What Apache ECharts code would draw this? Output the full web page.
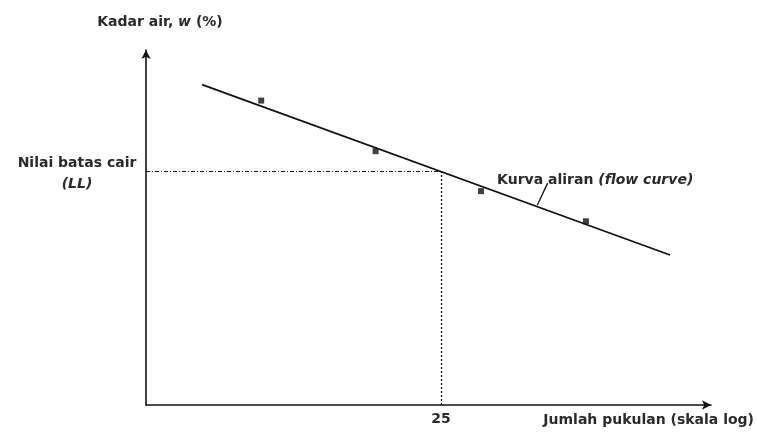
<!DOCTYPE html>
<html>
<head>
<meta charset="utf-8">
<script src="https://cdn.jsdelivr.net/npm/echarts@6/dist/echarts.min.js"></script>
<style>html,body{margin:0;padding:0;background:#fff}#c{width:757px;height:442px}</style>
</head>
<body>
<div id="c"></div>
<script>
// Data (blow count on log scale, water content %)
const testBlows = [14.3, 20.4, 28.3, 39.2];
const testWater = [54.3, 48.6, 44.1, 40.7];
const curveBlows = [11.9, 50.9];
const curveWater = [56.1, 36.9];
const leaderBlows = [33.7, 34.8];
const leaderWater = [42.5, 45.0];
const llBlows = 25;
const llWater = 46.3;
const xTickValues = [25];
const xTickLabels = ['25'];
const yTickValues = [llWater];
const xName = 'Jumlah pukulan (skala log)';
const yName = 'Kadar air, {i|w} (%)';
const llLabel = '{a|Nilai batas cair}\n{i|(LL)}';
const curveLabel = 'Kurva aliran {i|(flow curve)}';

const FONT = 'DejaVu Sans';
const FS = 14;
const TXT = '#2a2a2a';
const ink = '#111';
const chart = echarts.init(document.getElementById('c'));
const xMin = 10, xMax = 57.8, yMin = 20, yMax = 60;
const baseText = { fontFamily: FONT, fontSize: FS, fontWeight: 'bold', color: TXT };
const italicText = Object.assign({}, baseText, { fontStyle: 'italic' });

chart.setOption({
  animation: false,
  backgroundColor: '#fff',
  grid: { left: 146, right: 46, top: 50, bottom: 37 },
  xAxis: {
    type: 'log', logBase: 10, min: xMin, max: xMax,
    name: xName, nameLocation: 'end', nameGap: 43,
    nameTextStyle: Object.assign({}, baseText, { align: 'right', verticalAlign: 'top', padding: [8, 0, 0, 0] }),
    axisLine: { show: true, symbol: ['none', 'arrow'], symbolSize: [7, 9], lineStyle: { color: ink, width: 1.6 } },
    axisTick: { show: false },
    splitLine: { show: false },
    minorSplitLine: { show: false },
    axisLabel: Object.assign({}, baseText, {
      customValues: xTickValues, margin: 7,
      formatter: (v) => { const i = xTickValues.findIndex(t => Math.abs(t - v) < 1e-6); return i >= 0 ? xTickLabels[i] : ''; }
    })
  },
  yAxis: {
    type: 'value', min: yMin, max: yMax,
    name: yName, nameLocation: 'end', nameGap: 21,
    nameTextStyle: Object.assign({}, baseText, { align: 'center', padding: [0, 0, 0, 28], rich: { i: italicText } }),
    axisLine: { show: true, symbol: ['none', 'arrow'], symbolSize: [7, 9], lineStyle: { color: ink, width: 1.6 } },
    axisTick: { show: false },
    splitLine: { show: false },
    axisLabel: Object.assign({}, baseText, {
      customValues: yTickValues, margin: 69, align: 'center', padding: [4, 0, 0, 0],
      formatter: () => llLabel,
      rich: {
        a: Object.assign({}, baseText, { lineHeight: 21 }),
        i: Object.assign({}, italicText, { lineHeight: 21 })
      }
    })
  },
  series: [
    {
      type: 'line',
      data: curveBlows.map((b, i) => [b, curveWater[i]]),
      showSymbol: false,
      lineStyle: { color: ink, width: 1.7 },
      silent: true,
      z: 3
    },
    {
      type: 'scatter',
      data: testBlows.map((b, i) => [b, testWater[i]]),
      symbol: 'rect', symbolSize: 6,
      itemStyle: { color: ink },
      z: 4,
      markLine: {
        silent: true, symbol: 'none', label: { show: false },
        data: [
          [{ coord: [xMin, llWater], lineStyle: { type: [4, 2, 1, 2], color: ink, width: 1.1 } }, { coord: [llBlows, llWater] }],
          [{ coord: [llBlows, yMin], lineStyle: { type: [2, 2], color: ink, width: 1.3 } }, { coord: [llBlows, llWater] }]
        ]
      }
    },
    {
      type: 'line',
      data: [
        [leaderBlows[0], leaderWater[0]],
        { value: [leaderBlows[1], leaderWater[1]],
          label: Object.assign({}, baseText, { show: true, position: 'right', distance: 5, offset: [-56, -3],
            formatter: curveLabel, rich: { i: italicText } }) }
      ],
      symbol: 'circle', symbolSize: 1, showSymbol: true,
      itemStyle: { color: 'rgba(0,0,0,0)' },
      lineStyle: { color: ink, width: 1.3 },
      silent: true,
      z: 5
    }
  ]
});
</script>
</body>
</html>
